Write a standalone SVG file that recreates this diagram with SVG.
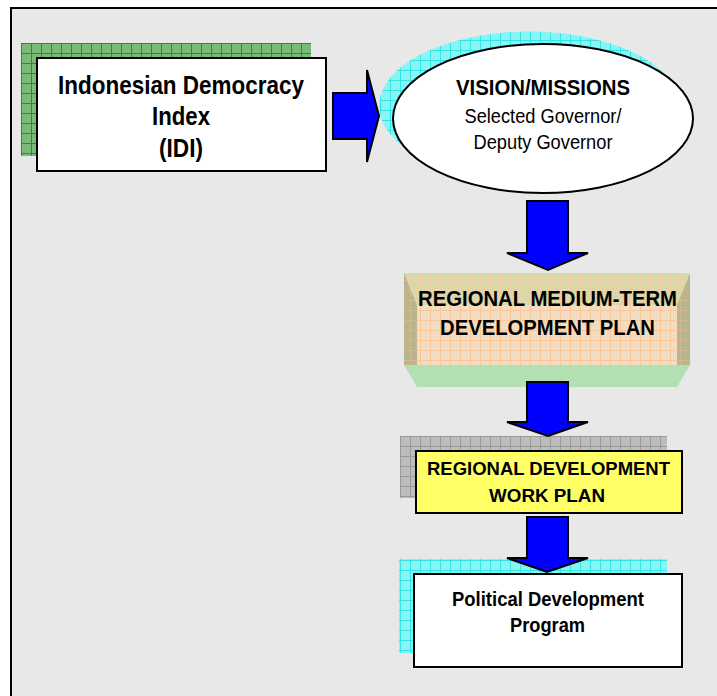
<svg xmlns="http://www.w3.org/2000/svg" width="717" height="696" viewBox="0 0 717 696">
<style>
.box{stroke:#000;stroke-width:2}
.arrow{fill:#0000ff;stroke:#000;stroke-width:2;stroke-linejoin:miter}
.b{font-family:"Liberation Sans",Arial,sans-serif;font-weight:bold;fill:#000;text-anchor:middle}
.r{font-family:"Liberation Sans",Arial,sans-serif;fill:#000;text-anchor:middle}
</style>
<defs>
<pattern id="pGreen" width="10" height="10" patternUnits="userSpaceOnUse" x="21" y="43">
<rect width="10" height="10" fill="#77bb77"/>
<path d="M0,0.5H10M0.5,0V10" stroke="#2e8b2e" stroke-width="1"/>
</pattern>
<pattern id="pCyan" width="10" height="10" patternUnits="userSpaceOnUse">
<rect width="10" height="10" fill="#88f4f4"/>
<path d="M0,0.5H10M0.5,0V10" stroke="#33e6e6" stroke-width="1"/>
</pattern>
<pattern id="pGray" width="10" height="10" patternUnits="userSpaceOnUse" x="400" y="436">
<rect width="10" height="10" fill="#bdbdbd"/>
<path d="M0,0.5H10M0.5,0V10" stroke="#9a9a9a" stroke-width="1"/>
</pattern>
<pattern id="pPeach" width="10" height="10" patternUnits="userSpaceOnUse">
<rect width="10" height="10" fill="#f3dcc4"/>
<path d="M0,0.5H10M0.5,0V10" stroke="#f8c898" stroke-width="1"/>
</pattern>
<pattern id="pKhaki" width="10" height="10" patternUnits="userSpaceOnUse">
<rect width="10" height="10" fill="#d8d8a8"/>
<path d="M0,0.5H10M0.5,0V10" stroke="#ecd0a8" stroke-width="1"/>
</pattern>
<pattern id="pOlive" width="10" height="10" patternUnits="userSpaceOnUse">
<rect width="10" height="10" fill="#b8b48c"/>
<path d="M0,0.5H10M0.5,0V10" stroke="#d0b890" stroke-width="1"/>
</pattern>
</defs>
<rect x="0" y="0" width="717" height="696" fill="#ffffff"/>
<rect x="11" y="8" width="720" height="700" fill="#e8e8e8" stroke="#000" stroke-width="2"/>

<g id="idi">
<rect x="21" y="43" width="290" height="113" fill="url(#pGreen)"/>
<rect class="box" x="37" y="58" width="289" height="113" fill="#ffffff"/>
<text class="b" font-size="26" x="181" y="94" textLength="246" lengthAdjust="spacingAndGlyphs">Indonesian Democracy</text>
<text class="b" font-size="26" x="181" y="125" textLength="58" lengthAdjust="spacingAndGlyphs">Index</text>
<text class="b" font-size="26" x="181" y="157" textLength="44" lengthAdjust="spacingAndGlyphs">(IDI)</text>
</g>

<g id="vision">
<ellipse cx="529" cy="106" rx="150" ry="74.5" fill="url(#pCyan)"/>
<ellipse class="box" cx="543" cy="118.5" rx="150" ry="74.5" fill="#ffffff"/>
<text class="b" font-size="22" x="543" y="95" textLength="174" lengthAdjust="spacingAndGlyphs">VISION/MISSIONS</text>
<text class="r" font-size="20" x="543" y="123" textLength="157" lengthAdjust="spacingAndGlyphs">Selected Governor/</text>
<text class="r" font-size="20" x="543" y="149" textLength="139" lengthAdjust="spacingAndGlyphs">Deputy Governor</text>
</g>

<g id="mtdp">
<polygon points="404,273 690,273 677,305 417,305" fill="url(#pKhaki)"/>
<polygon points="404,273 417,305 417,365 404,365" fill="url(#pOlive)"/>
<polygon points="690,273 677,305 677,365 690,365" fill="url(#pOlive)"/>
<rect x="417" y="305" width="260" height="60" fill="url(#pPeach)"/>
<polygon points="404,365 690,365 677,387 417,387" fill="#b3e0b3"/>
<text class="b" font-size="22" x="547.5" y="306" textLength="259" lengthAdjust="spacingAndGlyphs">REGIONAL MEDIUM-TERM</text>
<text class="b" font-size="22" x="547.5" y="335" textLength="215" lengthAdjust="spacingAndGlyphs">DEVELOPMENT PLAN</text>
</g>

<g id="rdwp">
<rect x="400" y="436" width="267" height="62" fill="url(#pGray)"/>
<rect class="box" x="416" y="451" width="266" height="62" fill="#ffff66"/>
<text class="b" font-size="19" x="548.5" y="475" textLength="243" lengthAdjust="spacingAndGlyphs">REGIONAL DEVELOPMENT</text>
<text class="b" font-size="19" x="547" y="502" textLength="116" lengthAdjust="spacingAndGlyphs">WORK PLAN</text>
</g>

<g id="political">
<rect x="399" y="559" width="268" height="94" fill="url(#pCyan)"/>
<rect class="box" x="414" y="574" width="268" height="93" fill="#ffffff"/>
<text class="b" font-size="20" x="548" y="606" textLength="192" lengthAdjust="spacingAndGlyphs">Political Development</text>
<text class="b" font-size="20" x="547.5" y="632" textLength="75" lengthAdjust="spacingAndGlyphs">Program</text>
</g>

<g id="connectors">
<path class="arrow" d="M333,93 L367,93 L367,70 L379,116 L367,162 L367,139 L333,139 Z"/>
<path class="arrow" d="M527,201 L568,201 L568,253 L588,253 L548,270 L507,253 L527,253 Z"/>
<path class="arrow" d="M527,382 L568,382 L568,422 L588,422 L548,436 L507,422 L527,422 Z"/>
<path class="arrow" d="M527,517 L568,517 L568,558 L588,558 L547,572 L507,558 L527,558 Z"/>
</g>
</svg>
